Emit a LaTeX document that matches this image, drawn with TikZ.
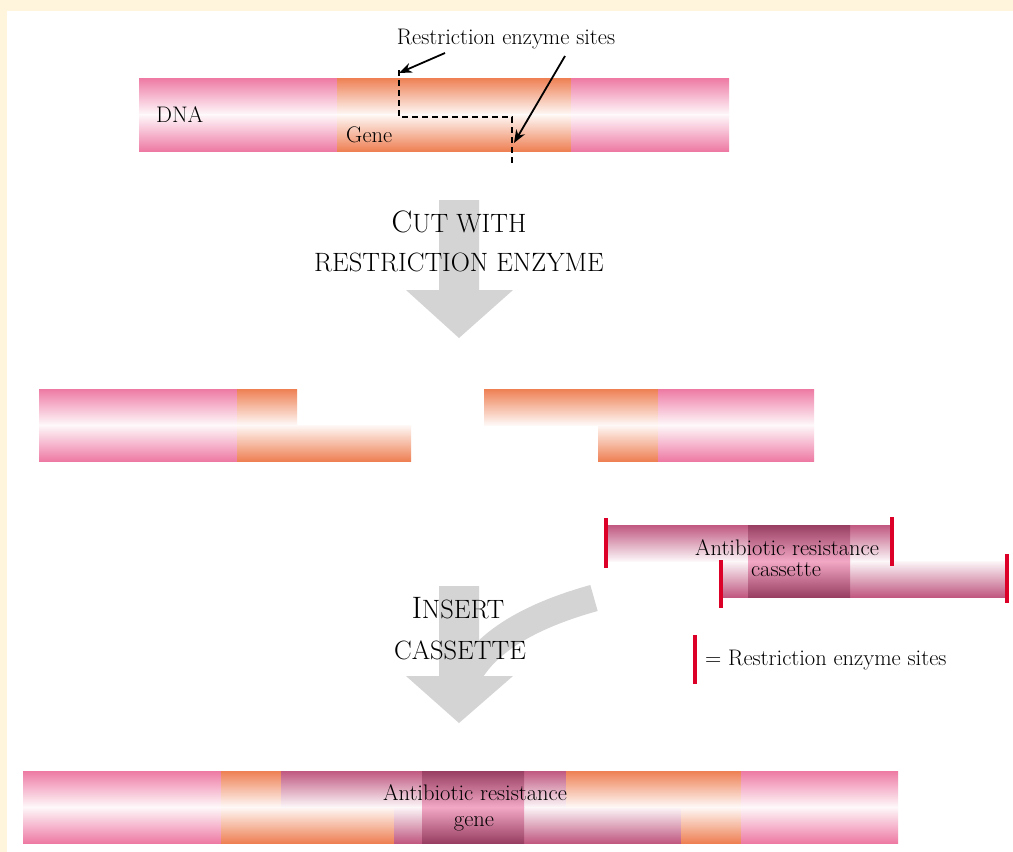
\documentclass[tikz,border=0pt]{standalone}
\usepackage{tikz}
\usetikzlibrary{arrows.meta, positioning}
\definecolor{dnapink}{RGB}{238, 122, 164}
\definecolor{geneorange}{RGB}{238, 128, 84}
\definecolor{casmauve}{RGB}{192, 88, 128}
\definecolor{casdark}{RGB}{152, 62, 98}
\definecolor{caslight}{RGB}{242, 168, 196}
\definecolor{sitered}{RGB}{220, 0, 40}
\definecolor{arrowgray}{RGB}{212, 212, 212}
\definecolor{framecream}{RGB}{255, 245, 220}
% one strand piece, both halves: colour, left, right, top, bottom
\newcommand{\dnatube}[5]{%
  \shade[hiup=#1] (#2,#4) rectangle (#3,{(#4+#5)/2});
  \shade[hidown=#1] (#2,{(#4+#5)/2}) rectangle (#3,#5);}
% small capitals: big initial, smaller rest
\newcommand{\capsword}[2]{{\fontsize{31}{36}\selectfont #1}{\fontsize{26.5}{31}\selectfont #2}}

\begin{document}
\begin{tikzpicture}[x=1pt, y=-1pt,
    lbl/.style={inner sep=0pt, font=\fontsize{22.5}{26}\selectfont},
    capslbl/.style={inner sep=0pt, font=\fontsize{26.5}{31}\selectfont},
    hiup/.style={top color=#1, bottom color=#1!5},
    hidown/.style={top color=#1!5, bottom color=#1},
    darkup/.style={top color=casdark, bottom color=caslight},
    darkdown/.style={top color=caslight, bottom color=casdark},
    site/.style={draw=sitered, line width=4pt},
    cutline/.style={line width=2.2pt, dash pattern=on 6pt off 4pt},
    pointer/.style={-{Stealth[length=13pt, width=10pt]}, line width=1.8pt}]
    \useasboundingbox (0,0) rectangle (1013,852);
    \fill[framecream] (0,0) rectangle (1013,852);
    \fill[white] (7,11) rectangle (1013,852);

    % DNA with gene
    \dnatube{dnapink}{139}{337}{78}{151}
    \dnatube{geneorange}{337}{571}{78}{151}
    \dnatube{dnapink}{571}{729}{78}{151}
    \node[lbl, anchor=base] (sites) at (506,44) {Restriction enzyme sites};
    \node[lbl, anchor=base west] (dna) at (156,122) {DNA};
    \node[lbl, anchor=base west] (gene) at (346,142) {Gene};
    \coordinate (cutA) at (399,73);
    \coordinate (cutB) at (514,143);
    \draw[cutline] (399,70) -- (399,117) -- (512,117) -- (512,166);
    \draw[pointer] (445,53) -- (cutA);
    \draw[pointer] (565,56) -- (cutB);

    % big grey arrows
    \fill[arrowgray] (439,200) -- (479,200) -- (479,290) -- (513,290)
      -- (459,338) -- (406,290) -- (439,290) -- cycle;
    \fill[arrowgray] (439,586) -- (479,586) -- (479,676) -- (513,676)
      -- (459,723) -- (406,676) -- (439,676) -- cycle;
    \draw[arrowgray, line width=27pt] (594,598) .. controls (540,613)
      and (478,640) .. (462,690);
    \node[capslbl, anchor=base] (cutwith) at (459,232) {\capsword{C}{UT WITH}};
    \node[capslbl, anchor=base] (restr) at (459,271) {RESTRICTION ENZYME};
    \node[capslbl, anchor=base] (insert) at (458,618) {\capsword{I}{NSERT}};
    \node[capslbl, anchor=base] (cassette) at (460,659) {CASSETTE};

    % cut pieces
    \dnatube{dnapink}{39}{237}{389}{461}
    \shade[hiup=geneorange] (237,389) rectangle (297,425);
    \shade[hidown=geneorange] (237,425) rectangle (411,461);
    \shade[hiup=geneorange] (484,389) rectangle (658,425);
    \shade[hidown=geneorange] (598,425) rectangle (658,461);
    \dnatube{dnapink}{658}{814}{389}{461}

    % cassette
    \shade[hiup=casmauve] (607,525) rectangle (891,561);
    \shade[hidown=casmauve] (721,561) rectangle (1007,597);
    \shade[darkup] (748,525) rectangle (850,561);
    \shade[darkdown] (748,561) rectangle (850,597);
    \draw[site] (606,518) -- (606,568);
    \draw[site] (892,517) -- (892,566);
    \draw[site] (721,560) -- (721,608);
    \draw[site] (1007,554) -- (1007,603);
    \node[lbl, anchor=base] (abres) at (787,555) {Antibiotic resistance};
    \node[lbl, anchor=base] (cas) at (786,576) {cassette};
    \draw[site] (695,635) -- (695,684);
    \node[lbl, anchor=base west] (legend) at (705,665) {= Restriction enzyme sites};

    % DNA with inserted cassette
    \dnatube{dnapink}{23}{221}{771}{843}
    \shade[hiup=geneorange] (221,771) rectangle (281,807);
    \shade[hidown=geneorange] (221,807) rectangle (394,843);
    \shade[hiup=casmauve] (281,771) rectangle (566,807);
    \shade[hidown=casmauve] (394,807) rectangle (681,843);
    \shade[darkup] (422,771) rectangle (524,807);
    \shade[darkdown] (422,807) rectangle (524,843);
    \shade[hiup=geneorange] (566,771) rectangle (741,807);
    \shade[hidown=geneorange] (681,807) rectangle (741,843);
    \dnatube{dnapink}{741}{898}{771}{843}
    \node[lbl, anchor=base] (abgene) at (475,800) {Antibiotic resistance};
    \node[lbl, anchor=base] (genelbl) at (474,826) {gene};
\end{tikzpicture}
\end{document}
